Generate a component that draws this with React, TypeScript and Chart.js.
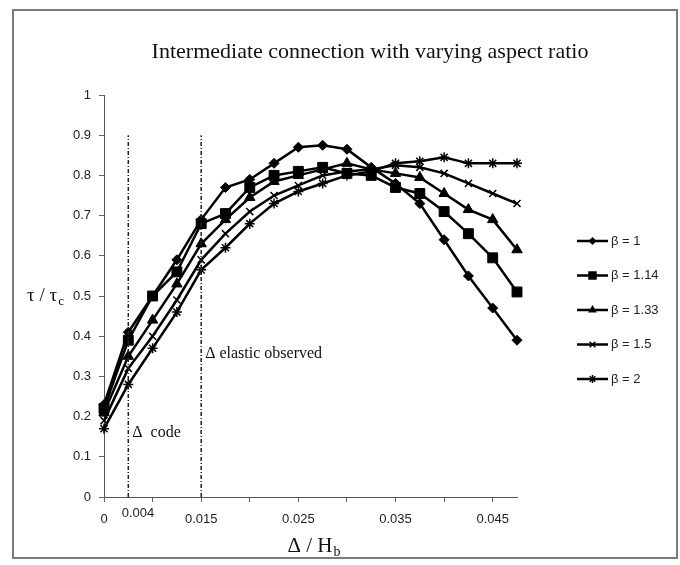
import React, { useEffect, useRef } from 'react';
import { Chart, registerables } from 'chart.js';

Chart.register(...registerables);

// ---- data ----
const driftValues = [0.005, 0.0075, 0.01, 0.0125, 0.015, 0.0175, 0.02, 0.0225, 0.025, 0.0275, 0.03, 0.0325, 0.035, 0.0375, 0.04, 0.0425, 0.045, 0.0475];
const seriesLabels = ['β = 1', 'β = 1.14', 'β = 1.33', 'β = 1.5', 'β = 2'];
const beta1 = [0.23, 0.41, 0.5, 0.59, 0.69, 0.77, 0.79, 0.83, 0.87, 0.875, 0.865, 0.82, 0.78, 0.73, 0.64, 0.55, 0.47, 0.39];
const beta114 = [0.22, 0.39, 0.5, 0.56, 0.68, 0.705, 0.77, 0.8, 0.81, 0.82, 0.805, 0.8, 0.77, 0.755, 0.71, 0.655, 0.595, 0.51];
const beta133 = [0.21, 0.35, 0.44, 0.53, 0.63, 0.69, 0.745, 0.785, 0.8, 0.815, 0.83, 0.815, 0.805, 0.795, 0.755, 0.715, 0.69, 0.615];
const beta15 = [0.19, 0.32, 0.4, 0.49, 0.59, 0.655, 0.71, 0.75, 0.775, 0.8, 0.81, 0.815, 0.825, 0.82, 0.805, 0.78, 0.755, 0.73];
const beta2 = [0.17, 0.28, 0.37, 0.46, 0.565, 0.62, 0.68, 0.73, 0.76, 0.78, 0.8, 0.81, 0.83, 0.835, 0.845, 0.83, 0.83, 0.83];
const seriesValues = [beta1, beta114, beta133, beta15, beta2];
const pointStyles = ['rectRot', 'rect', 'triangle', 'crossRot', 'star'];
const pointSizes = [5, 7, 6, 5, 5];

const xTickValues = [0.005, 0.01, 0.015, 0.02, 0.025, 0.03, 0.035, 0.04, 0.045];
const xTickLabels = ['0', '', '0.015', '', '0.025', '', '0.035', '', '0.045'];
const extraXLabel = '0.004';
const extraXLabelValue = 0.0085;
const yTickValues = [0, 0.1, 0.2, 0.3, 0.4, 0.5, 0.6, 0.7, 0.8, 0.9, 1];
const yTickLabels = ['0', '0.1', '0.2', '0.3', '0.4', '0.5', '0.6', '0.7', '0.8', '0.9', '1'];

const codeDrift = 0.0075;
const elasticDrift = 0.015;
const limitTop = 0.9;
const codeLabel = 'Δ  code';
const codeLabelY = 0.16;
const elasticLabel = 'Δ elastic observed';
const elasticLabelY = 0.357;

const titleText = 'Intermediate connection with varying aspect ratio';

const SERIF = '"Liberation Serif", "DejaVu Serif", serif';
const SANS = '"Liberation Sans", Arial, sans-serif';

function drawMarker(ctx: CanvasRenderingContext2D, style: string, x: number, y: number, r: number) {
  ctx.save();
  ctx.fillStyle = '#000';
  ctx.strokeStyle = '#000';
  ctx.lineWidth = 1.5;
  ctx.beginPath();
  if (style === 'rectRot') {
    ctx.moveTo(x, y - r); ctx.lineTo(x + r, y); ctx.lineTo(x, y + r); ctx.lineTo(x - r, y); ctx.closePath(); ctx.fill();
  } else if (style === 'rect') {
    const s = r * Math.SQRT1_2;
    ctx.rect(x - s, y - s, 2 * s, 2 * s); ctx.fill();
  } else if (style === 'triangle') {
    ctx.moveTo(x, y - r); ctx.lineTo(x + r * 0.866, y + r * 0.5); ctx.lineTo(x - r * 0.866, y + r * 0.5); ctx.closePath(); ctx.fill();
  } else if (style === 'crossRot') {
    const s = r * Math.SQRT1_2;
    ctx.moveTo(x - s, y - s); ctx.lineTo(x + s, y + s); ctx.moveTo(x + s, y - s); ctx.lineTo(x - s, y + s); ctx.stroke();
  } else if (style === 'star') {
    const s = r * Math.SQRT1_2;
    ctx.moveTo(x - s, y - s); ctx.lineTo(x + s, y + s); ctx.moveTo(x + s, y - s); ctx.lineTo(x - s, y + s);
    ctx.moveTo(x, y - r); ctx.lineTo(x, y + r); ctx.stroke();
  }
  ctx.restore();
}

function drawSubText(ctx: CanvasRenderingContext2D, main: string, sub: string, cx: number, cy: number, size: number) {
  ctx.save();
  ctx.fillStyle = '#111';
  ctx.textBaseline = 'middle';
  ctx.textAlign = 'left';
  ctx.font = `${size}px ${SERIF}`;
  const w1 = ctx.measureText(main).width;
  ctx.font = `${Math.round(size * 0.68)}px ${SERIF}`;
  const w2 = ctx.measureText(sub).width;
  const start = cx - (w1 + w2) / 2;
  ctx.font = `${size}px ${SERIF}`;
  ctx.fillText(main, start, cy);
  ctx.font = `${Math.round(size * 0.68)}px ${SERIF}`;
  ctx.fillText(sub, start + w1 + 1, cy + size * 0.3);
  ctx.restore();
}

const decorPlugin = {
  id: 'decor',
  beforeDraw(chart: any) {
    const ctx = chart.ctx as CanvasRenderingContext2D;
    ctx.save();
    ctx.fillStyle = '#fff';
    ctx.fillRect(0, 0, chart.width, chart.height);
    ctx.restore();
  },
  afterDraw(chart: any) {
    const ctx = chart.ctx as CanvasRenderingContext2D;
    const xs = chart.scales.x;
    const ys = chart.scales.y;
    ctx.save();
    // frame
    ctx.strokeStyle = '#7a7a7a';
    ctx.lineWidth = 2;
    ctx.strokeRect(13, 10, 664, 548);
    // title
    ctx.fillStyle = '#111';
    ctx.font = `22px ${SERIF}`;
    ctx.textAlign = 'center';
    ctx.textBaseline = 'middle';
    ctx.fillText(titleText, 370, 52);
    // annotations
    ctx.font = `16px ${SERIF}`;
    ctx.textAlign = 'left';
    ctx.fillText(codeLabel, xs.getPixelForValue(codeDrift) + 4, ys.getPixelForValue(codeLabelY));
    ctx.fillText(elasticLabel, xs.getPixelForValue(elasticDrift) + 4, ys.getPixelForValue(elasticLabelY));
    // extra x label
    ctx.font = `13px ${SANS}`;
    ctx.fillStyle = '#222';
    ctx.textAlign = 'center';
    ctx.fillText(extraXLabel, xs.getPixelForValue(extraXLabelValue), xs.bottom - 52);
    ctx.restore();
    // axis titles
    drawSubText(ctx, 'Δ / H', 'b', (xs.left + xs.right) / 2 + 3, 546, 21);
    drawSubText(ctx, 'τ / τ', 'c', 45, 296, 19);
    // legend
    ctx.save();
    for (let i = 0; i < seriesLabels.length; i++) {
      const ly = 241 + i * 34.5;
      ctx.strokeStyle = '#000';
      ctx.lineWidth = 2.5;
      ctx.beginPath();
      ctx.moveTo(577, ly);
      ctx.lineTo(608, ly);
      ctx.stroke();
      drawMarker(ctx, pointStyles[i], 592.5, ly, pointSizes[i] - 1);
      ctx.fillStyle = '#222';
      ctx.font = `13px ${SANS}`;
      ctx.textAlign = 'left';
      ctx.textBaseline = 'middle';
      ctx.fillText(seriesLabels[i], 611, ly);
    }
    ctx.restore();
  },
};

export default function App() {
  const canvasRef = useRef<HTMLCanvasElement | null>(null);

  useEffect(() => {
    if (!canvasRef.current) return;
    const seriesDatasets = seriesValues.map((vals, i) => ({
      label: seriesLabels[i],
      data: vals.map((v, j) => ({ x: driftValues[j], y: v })),
      borderColor: '#000',
      backgroundColor: '#000',
      borderWidth: 2.5,
      pointStyle: pointStyles[i] as any,
      pointRadius: pointSizes[i],
      pointBackgroundColor: '#000',
      pointBorderColor: '#000',
      pointBorderWidth: i >= 3 ? 1.5 : 1,
      tension: 0,
      clip: false as any,
    }));
    const limitDataset = (xv: number) => ({
      label: '',
      data: [{ x: xv, y: 0 }, { x: xv, y: limitTop }],
      borderColor: '#222',
      borderWidth: 1.5,
      borderDash: [4, 2, 1, 2],
      pointRadius: 0,
      clip: false as any,
    });
    const chart = new Chart(canvasRef.current, {
      type: 'line',
      data: { datasets: [limitDataset(codeDrift), limitDataset(elasticDrift), ...seriesDatasets] as any },
      options: {
        responsive: false,
        animation: false,
        layout: { padding: { left: 0, top: 95, right: 163, bottom: 0 } },
        plugins: { legend: { display: false }, tooltip: { enabled: false }, title: { display: false } },
        scales: {
          x: {
            type: 'linear',
            min: 0.005,
            max: 0.0475,
            afterBuildTicks: (scale: any) => { scale.ticks = xTickValues.map((v) => ({ value: v })); },
            afterFit: (scale: any) => { scale.height = 68; },
            ticks: {
              autoSkip: false,
              maxRotation: 0,
              padding: 10,
              color: '#222',
              font: { family: SANS, size: 13 },
              callback: (_v: any, i: number) => xTickLabels[i],
            },
            grid: { drawOnChartArea: false, drawTicks: true, tickLength: 5, color: '#666' },
            border: { color: '#555', width: 1 },
          },
          y: {
            type: 'linear',
            min: 0,
            max: 1,
            afterBuildTicks: (scale: any) => { scale.ticks = yTickValues.map((v) => ({ value: v })); },
            afterFit: (scale: any) => { scale.width = 104; },
            ticks: {
              autoSkip: false,
              padding: 8,
              color: '#222',
              font: { family: SANS, size: 13 },
              callback: (_v: any, i: number) => yTickLabels[i],
            },
            grid: { drawOnChartArea: false, drawTicks: true, tickLength: 5, color: '#666' },
            border: { color: '#555', width: 1 },
          },
        },
      },
      plugins: [decorPlugin],
    });
    return () => chart.destroy();
  }, []);

  return (
    <div style={{ position: 'fixed', left: 0, top: 0, width: 680, height: 565, background: '#fff' }}>
      <canvas ref={canvasRef} width={680} height={565} style={{ display: 'block' }} />
    </div>
  );
}
